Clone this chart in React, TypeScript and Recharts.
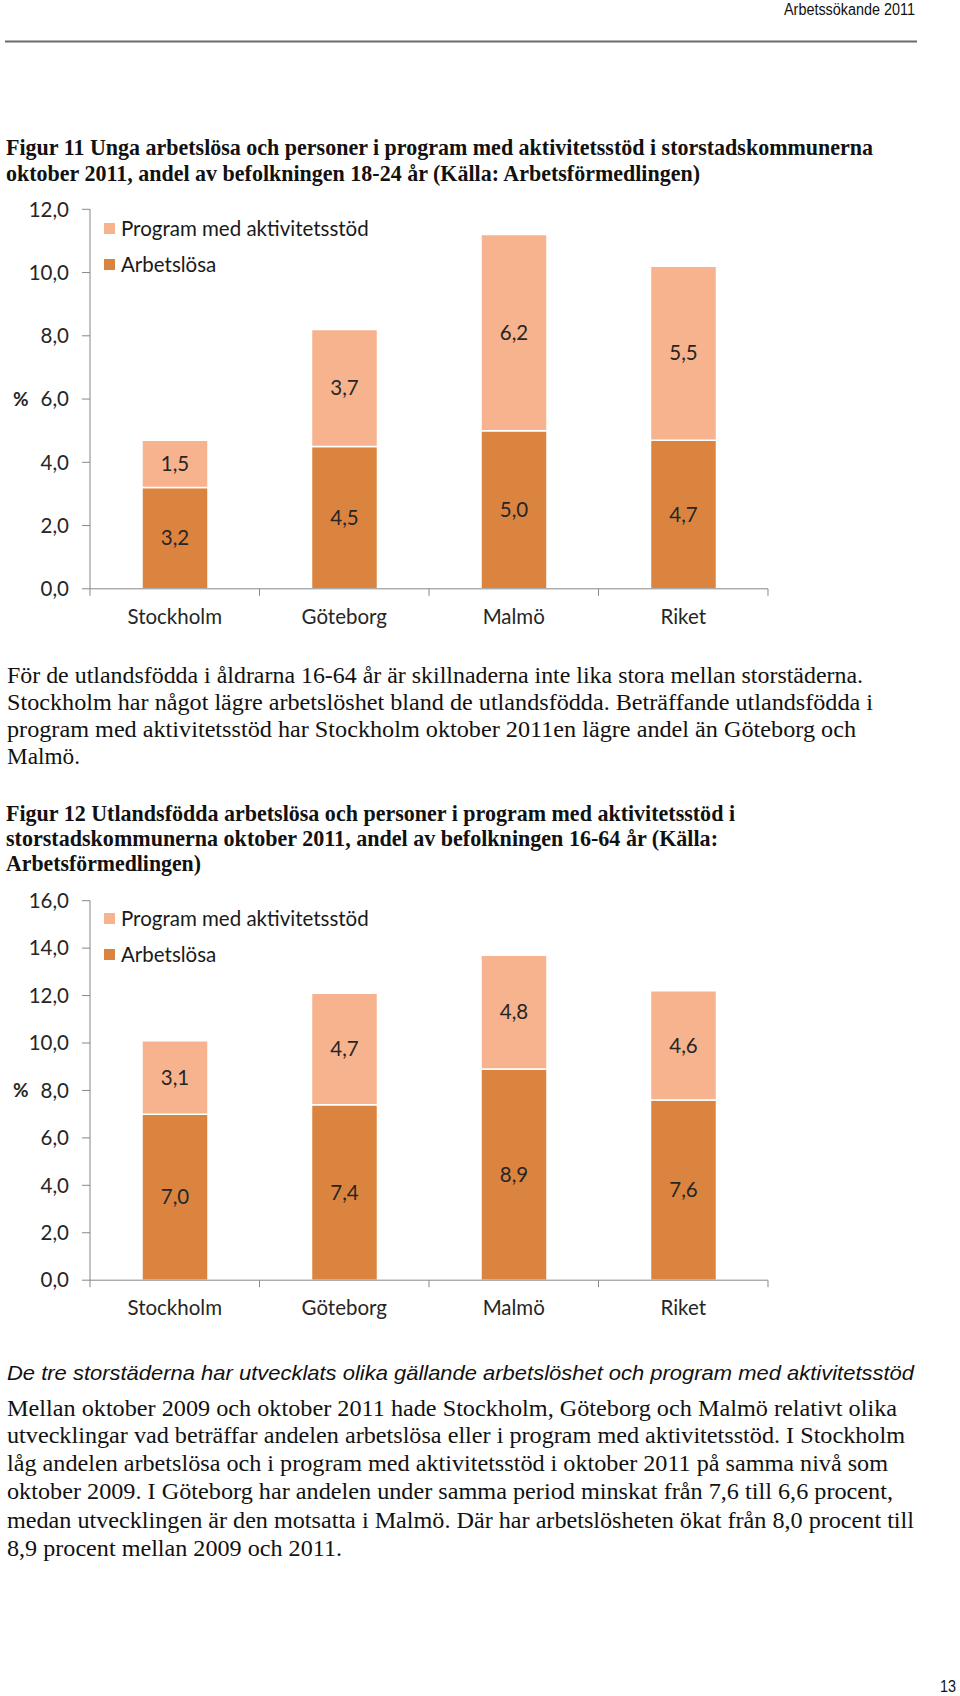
import React from "react"
import { BarChart, Bar, XAxis, YAxis, Legend, LabelList } from "recharts"

// data
const cities = ["Stockholm", "Göteborg", "Malmö", "Riket"]
const ungaArbetslosa = [3.2, 4.5, 5.0, 4.7]
const ungaProgram = [1.5, 3.7, 6.2, 5.5]
const utlArbetslosa = [7.0, 7.4, 8.9, 7.6]
const utlProgram = [3.1, 4.7, 4.8, 4.6]
const ticksFig11 = [0, 2, 4, 6, 8, 10, 12]
const ticksFig12 = [0, 2, 4, 6, 8, 10, 12, 14, 16]

const DARK = "#DB843F"
const LIGHT = "#F7B38E"
const AXIS = "#878787"
const INK = "#262626"
const CHART_FONT = "Lato, 'Open Sans', sans-serif"
const CHART_FS = 20.5
const SERIF = "'Liberation Serif', 'DejaVu Serif', serif"
const SANS = "'Liberation Sans', Arial, sans-serif"

const CHART_W = 800
const Y_AXIS_W = 90
const RIGHT_M = 32
const BAND = (CHART_W - Y_AXIS_W - RIGHT_M) / cities.length

const fmt = (v: number) => v.toFixed(1).replace(".", ",")

function CityTick(props: any) {
  const { x, y, payload, index } = props
  const last = index === cities.length - 1
  return (
    <g>
      <line x1={x - BAND / 2} x2={x - BAND / 2} y1={y} y2={y + 7} stroke={AXIS} />
      {last && <line x1={x + BAND / 2} x2={x + BAND / 2} y1={y} y2={y + 7} stroke={AXIS} />}
      <text x={x} y={y + 35} textAnchor="middle" fill={INK} fontSize={CHART_FS} fontFamily={CHART_FONT}>
        {payload.value}
      </text>
    </g>
  )
}

function LegendBox({ payload }: any) {
  const items = [...(payload || [])].reverse()
  return (
    <div style={{ fontFamily: CHART_FONT, fontSize: CHART_FS, color: "#1a1a1a" }}>
      {items.map((it: any) => (
        <div key={it.value} style={{ display: "flex", alignItems: "center", height: 36, whiteSpace: "nowrap" }}>
          <span style={{ display: "inline-block", width: 11, height: 11, background: it.color, marginRight: 6 }} />
          <span>{it.value}</span>
        </div>
      ))}
    </div>
  )
}

function StackedChart({
  arbetslosa,
  program,
  ticks,
  top,
  marginTop,
}: {
  arbetslosa: number[]
  program: number[]
  ticks: number[]
  top: number
  marginTop: number
}) {
  const data = cities.map((c, i) => ({ city: c, arbetslosa: arbetslosa[i], program: program[i] }))
  const plotH = 379.5
  const xAxisH = 51
  return (
    <div style={{ position: "absolute", left: 0, top }}>
      <BarChart
        width={CHART_W}
        height={marginTop + plotH + xAxisH}
        data={data}
        margin={{ top: marginTop, right: RIGHT_M, bottom: 0, left: 0 }}
        barSize={66}
      >
        <XAxis
          dataKey="city"
          height={xAxisH}
          axisLine={{ stroke: AXIS }}
          tickLine={false}
          tickSize={0}
          tickMargin={0}
          tick={<CityTick />}
          interval={0}
        />
        <YAxis
          width={Y_AXIS_W}
          domain={[0, ticks[ticks.length - 1]]}
          ticks={ticks}
          interval={0}
          tickFormatter={fmt}
          axisLine={{ stroke: AXIS }}
          tickLine={{ stroke: AXIS }}
          tickSize={8}
          tickMargin={13}
          tick={{ fill: INK, fontSize: CHART_FS, fontFamily: CHART_FONT }}
          label={{
            value: "%",
            position: "insideLeft",
            offset: 13,
            fill: INK,
            fontSize: 19,
            fontWeight: 700,
            fontFamily: CHART_FONT,
          }}
        />
        <Legend
          layout="vertical"
          align="center"
          verticalAlign="middle"
          content={<LegendBox />}
          wrapperStyle={{ left: 104, top: 20, width: "auto" }}
        />
        <Bar dataKey="arbetslosa" name="Arbetslösa" stackId="s" fill={DARK} stroke="#fff" strokeWidth={1.5} isAnimationActive={false}>
          <LabelList dataKey="arbetslosa" position="center" formatter={(v: any) => fmt(Number(v))} fill={INK} fontSize={CHART_FS} fontFamily={CHART_FONT} />
        </Bar>
        <Bar dataKey="program" name="Program med aktivitetsstöd" stackId="s" fill={LIGHT} stroke="#fff" strokeWidth={1.5} isAnimationActive={false}>
          <LabelList dataKey="program" position="center" formatter={(v: any) => fmt(Number(v))} fill={INK} fontSize={CHART_FS} fontFamily={CHART_FONT} />
        </Bar>
      </BarChart>
    </div>
  )
}

function Line({
  x,
  y,
  w,
  size = 24,
  bold,
  italic,
  family = SERIF,
  children,
}: {
  x: number
  y: number
  w: number
  size?: number
  bold?: boolean
  italic?: boolean
  family?: string
  children: string
}) {
  return (
    <text
      x={x}
      y={y}
      textLength={w - x}
      lengthAdjust="spacingAndGlyphs"
      fontSize={size}
      fontFamily={family}
      fontWeight={bold ? 700 : 400}
      fontStyle={italic ? "italic" : "normal"}
      fill="#111"
    >
      {children}
    </text>
  )
}

export default function App() {
  return (
    <div style={{ position: "absolute", left: 0, top: 0, width: 960, height: 1696, background: "#fff", overflow: "hidden" }}>
      <svg width={960} height={1696} style={{ position: "absolute", left: 0, top: 0 }}>
        <Line x={784} y={15} w={915} size={16} family={SANS}>Arbetssökande 2011</Line>
        <line x1={5} x2={917} y1={41.5} y2={41.5} stroke="#6b6b6b" strokeWidth={2} />

        <Line x={6} y={155} w={873} size={23} bold>Figur 11 Unga arbetslösa och personer i program med aktivitetsstöd i storstadskommunerna</Line>
        <Line x={6} y={181} w={700} size={23} bold>oktober 2011, andel av befolkningen 18-24 år (Källa: Arbetsförmedlingen)</Line>

        <Line x={7} y={683} w={863}>För de utlandsfödda i åldrarna 16-64 år är skillnaderna inte lika stora mellan storstäderna.</Line>
        <Line x={7} y={710} w={873}>Stockholm har något lägre arbetslöshet bland de utlandsfödda. Beträffande utlandsfödda i</Line>
        <Line x={7} y={737} w={856}>program med aktivitetsstöd har Stockholm oktober 2011en lägre andel än Göteborg och</Line>
        <Line x={7} y={764} w={80}>Malmö.</Line>

        <Line x={6} y={821} w={735} size={23} bold>Figur 12 Utlandsfödda arbetslösa och personer i program med aktivitetsstöd i</Line>
        <Line x={6} y={846} w={718} size={23} bold>storstadskommunerna oktober 2011, andel av befolkningen 16-64 år (Källa:</Line>
        <Line x={6} y={871} w={201} size={23} bold>Arbetsförmedlingen)</Line>

        <Line x={7} y={1380} w={914} size={21} italic family={SANS}>De tre storstäderna har utvecklats olika gällande arbetslöshet och program med aktivitetsstöd</Line>

        <Line x={7} y={1416} w={897}>Mellan oktober 2009 och oktober 2011 hade Stockholm, Göteborg och Malmö relativt olika</Line>
        <Line x={7} y={1443} w={905}>utvecklingar vad beträffar andelen arbetslösa eller i program med aktivitetsstöd. I Stockholm</Line>
        <Line x={7} y={1471} w={888}>låg andelen arbetslösa och i program med aktivitetsstöd i oktober 2011 på samma nivå som</Line>
        <Line x={7} y={1499} w={893}>oktober 2009. I Göteborg har andelen under samma period minskat från 7,6 till 6,6 procent,</Line>
        <Line x={7} y={1528} w={914}>medan utvecklingen är den motsatta i Malmö. Där har arbetslösheten ökat från 8,0 procent till</Line>
        <Line x={7} y={1556} w={342}>8,9 procent mellan 2009 och 2011.</Line>

        <Line x={940} y={1692} w={956} size={16} family={SANS}>13</Line>
      </svg>

      <StackedChart arbetslosa={ungaArbetslosa} program={ungaProgram} ticks={ticksFig11} top={190} marginTop={19.3} />
      <StackedChart arbetslosa={utlArbetslosa} program={utlProgram} ticks={ticksFig12} top={880} marginTop={20.7} />
    </div>
  )
}
